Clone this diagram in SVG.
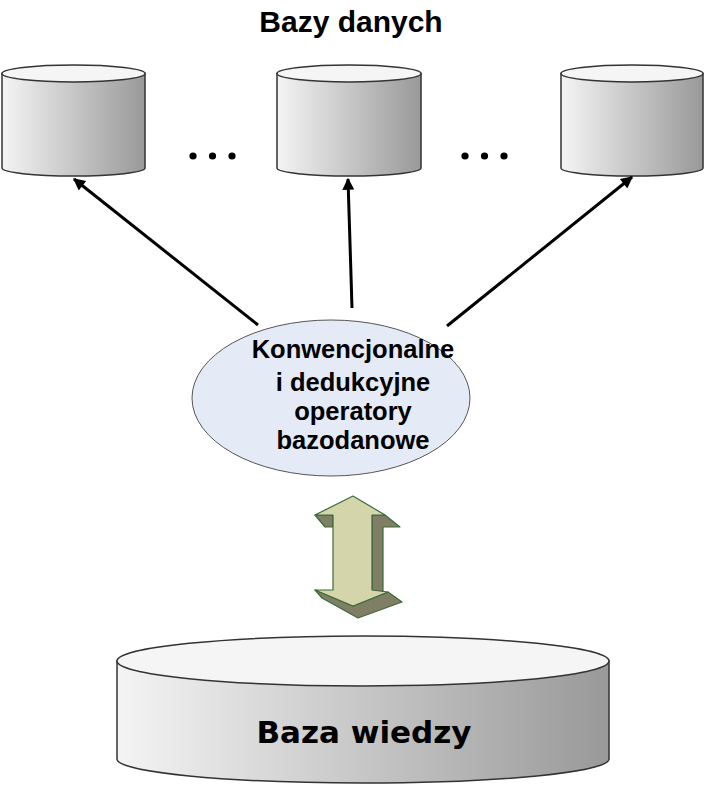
<svg xmlns="http://www.w3.org/2000/svg" width="705" height="785" viewBox="0 0 705 785">
<style>
.t{font-family:"Liberation Sans",Arial,sans-serif;font-weight:bold;fill:#000;text-anchor:middle}
.cyl{stroke:#333;stroke-width:1.5}
.top{fill:#f5f5f5;stroke:#333;stroke-width:1.5}
.conn{stroke:#000;stroke-width:3;fill:none;marker-end:url(#ah)}
.dot{fill:#000}
</style>
<defs>
<linearGradient id="g" x1="0" y1="0" x2="1" y2="0">
<stop offset="0" stop-color="#f4f4f4"/>
<stop offset="1" stop-color="#999"/>
</linearGradient>
<marker id="ah" viewBox="0 0 10 10" refX="9" refY="5" markerWidth="5" markerHeight="4" orient="auto" markerUnits="strokeWidth">
<path d="M0,0 L10,5 L0,10 Z" fill="#000"/>
</marker>
</defs>
<text class="t" x="351" y="32" font-size="30">Bazy danych</text>
<g id="db1">
<path class="cyl" fill="url(#g)" d="M2,73.5 L2,168 A71.5,8 0 0 0 145,168 L145,73.5 Z"/>
<ellipse class="top" cx="73.5" cy="73.5" rx="71.5" ry="8.5"/>
</g>
<g id="db2">
<path class="cyl" fill="url(#g)" d="M277,73.5 L277,168 A72,8 0 0 0 421,168 L421,73.5 Z"/>
<ellipse class="top" cx="349" cy="73.5" rx="72" ry="8.5"/>
</g>
<g id="db3">
<path class="cyl" fill="url(#g)" d="M561,73.5 L561,168 A71,8 0 0 0 703,168 L703,73.5 Z"/>
<ellipse class="top" cx="632" cy="73.5" rx="71" ry="8.5"/>
</g>
<g id="dots1">
<circle class="dot" cx="193" cy="156" r="3.6"/>
<circle class="dot" cx="212.5" cy="156" r="3.6"/>
<circle class="dot" cx="232" cy="156" r="3.6"/>
</g>
<g id="dots2">
<circle class="dot" cx="465" cy="156" r="3.6"/>
<circle class="dot" cx="484.5" cy="156" r="3.6"/>
<circle class="dot" cx="504" cy="156" r="3.6"/>
</g>
<g id="connectors">
<line class="conn" x1="258" y1="325" x2="74" y2="179"/>
<line class="conn" x1="352" y1="308" x2="348" y2="179"/>
<line class="conn" x1="447" y1="326" x2="632" y2="177"/>
</g>
<g id="operators">
<ellipse cx="331" cy="398" rx="139" ry="78" fill="#e4eaf6" stroke="#555" stroke-width="1"/>
<text class="t" font-size="25.5" x="353" y="358">Konwencjonalne</text>
<text class="t" font-size="25.5" x="353" y="391">i dedukcyjne</text>
<text class="t" font-size="25.5" x="353" y="420">operatory</text>
<text class="t" font-size="25.5" x="353" y="449">bazodanowe</text>
</g>
<g id="bidir" stroke="#3a6a3a" stroke-width="1.2" stroke-linejoin="round">
<polygon fill="#807f66" points="315,515 333,515 333,527 325,527"/>
<polygon fill="#807f66" points="372,515 385,515 400,527 383,527 383,592 372,592"/>
<polygon fill="#807f66" points="315,590 353,606 388,592 402,602 358,618 322,598"/>
<polygon fill="#d5d5ab" points="353,496 385,515 372,515 372,590 388,592 353,606 315,590 333,590 333,515 315,515"/>
</g>
<g id="kb">
<path class="cyl" fill="url(#g)" d="M117,661 L117,759 A246,24 0 0 0 609,759 L609,661 Z"/>
<ellipse class="top" cx="363" cy="661" rx="246" ry="25"/>
<text class="t" x="364" y="743" font-size="31" style="font-family:'DejaVu Sans',Verdana,sans-serif">Baza wiedzy</text>
</g>
</svg>
